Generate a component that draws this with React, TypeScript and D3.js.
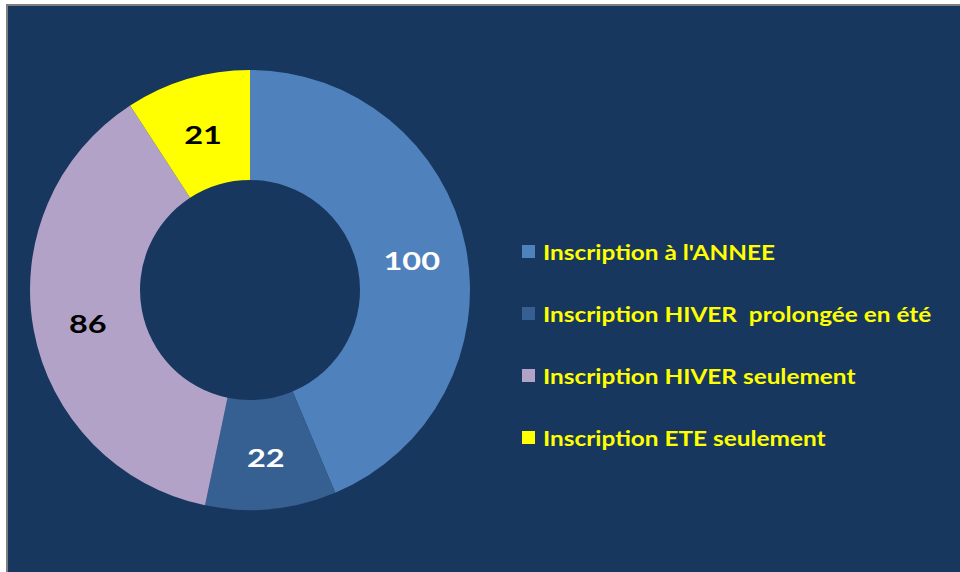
import React from "react";
import * as d3 from "d3";

const categories = [
  "Inscription à l'ANNEE",
  "Inscription HIVER  prolongée en été",
  "Inscription HIVER seulement",
  "Inscription ETE seulement",
];
const values = [100, 22, 86, 21];
const colors = ["#4F81BD", "#376092", "#B3A2C7", "#FFFF00"];
const labelColors = ["#FFFFFF", "#FFFFFF", "#000000", "#000000"];

export default function App() {
  const W = 960, H = 572;
  const cx = 250, cy = 290, R = 220, r = 110;
  const pie = d3.pie<number>().sort(null).value((d) => d)(values);
  const arc = d3.arc<d3.PieArcDatum<number>>().innerRadius(r).outerRadius(R);
  const font = "Lato, 'Open Sans', sans-serif";
  const legendY = d3.scalePoint<number>().domain(d3.range(categories.length)).range([252, 438]);
  return (
    <svg width={W} height={H} style={{ position: "absolute", left: 0, top: 0 }}>
      <rect x={0} y={0} width={W} height={H} fill="#ffffff" />
      <rect x={7} y={5} width={W + 10} height={H + 10} fill="#17375E" stroke="#7F7F7F" strokeWidth={2} />
      <g transform={`translate(${cx},${cy})`}>
        {pie.map((p, i) => (
          <path key={i} d={arc(p) || ""} fill={colors[i]} />
        ))}
        {pie.map((p, i) => {
          const [x, y] = arc.centroid(p);
          return (
            <g key={i} transform={`translate(${x},${y}) scale(1.3,1)`}>
              <text x={0} y={0} dy="0.5em" textAnchor="middle" fill={labelColors[i]}
                fontFamily={font} fontWeight="bold" fontSize={25}>
                {values[i]}
              </text>
            </g>
          );
        })}
      </g>
      {categories.map((c, i) => (
        <g key={i} transform={`translate(522,${legendY(i)})`}>
          <rect x={0} y={-7} width={13} height={13} fill={colors[i]} />
          <g transform="translate(21,0) scale(1.16,1)">
            <text x={0} y={0} dy="0.36em" fill="#FFFF00" fontFamily={font} fontWeight="bold"
              fontSize={21} style={{ whiteSpace: "pre" }}>
              {c}
            </text>
          </g>
        </g>
      ))}
    </svg>
  );
}
